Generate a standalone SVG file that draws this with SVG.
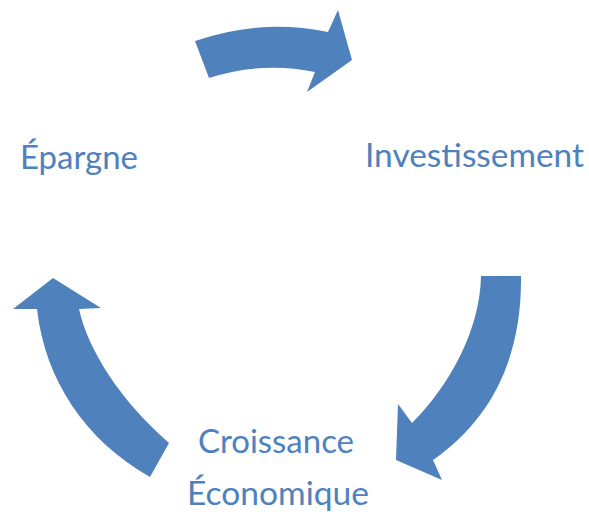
<svg xmlns="http://www.w3.org/2000/svg" width="589" height="518" viewBox="0 0 589 518">
<style>
.arr{fill:#4F81BD;stroke:none}
.lbl{font-family:Lato,"Open Sans","Liberation Sans",sans-serif;font-size:33px;fill:#4F81BD}
</style>
<rect width="589" height="518" fill="#ffffff"/>
<g id="connectors">
<path class="arr" d="M195,41 Q262,18 328,32 L338,10 L352,60 L307,92 L315,72 Q262,61 209,78 Z"/>
<path class="arr" d="M481,276 L521,276 C522,360 490,420 433,460 L442,480 L396,460 L398,404 L412,423 C450,385 480,330 481,276 Z"/>
<path class="arr" d="M53,278 L101,308 L79,309 C88,350 120,400 169,443 L150,477 C85,440 45,380 37,309 L13,309 Z"/>
</g>
<g id="epargne"><text class="lbl" x="20" y="169" textLength="118" lengthAdjust="spacingAndGlyphs">Épargne</text></g>
<g id="investissement"><text class="lbl" x="365" y="167" textLength="219" lengthAdjust="spacingAndGlyphs">Investissement</text></g>
<g id="croissance"><text class="lbl" x="198" y="453" textLength="156" lengthAdjust="spacingAndGlyphs">Croissance</text><text class="lbl" x="187" y="505" textLength="182" lengthAdjust="spacingAndGlyphs">Économique</text></g>
</svg>
